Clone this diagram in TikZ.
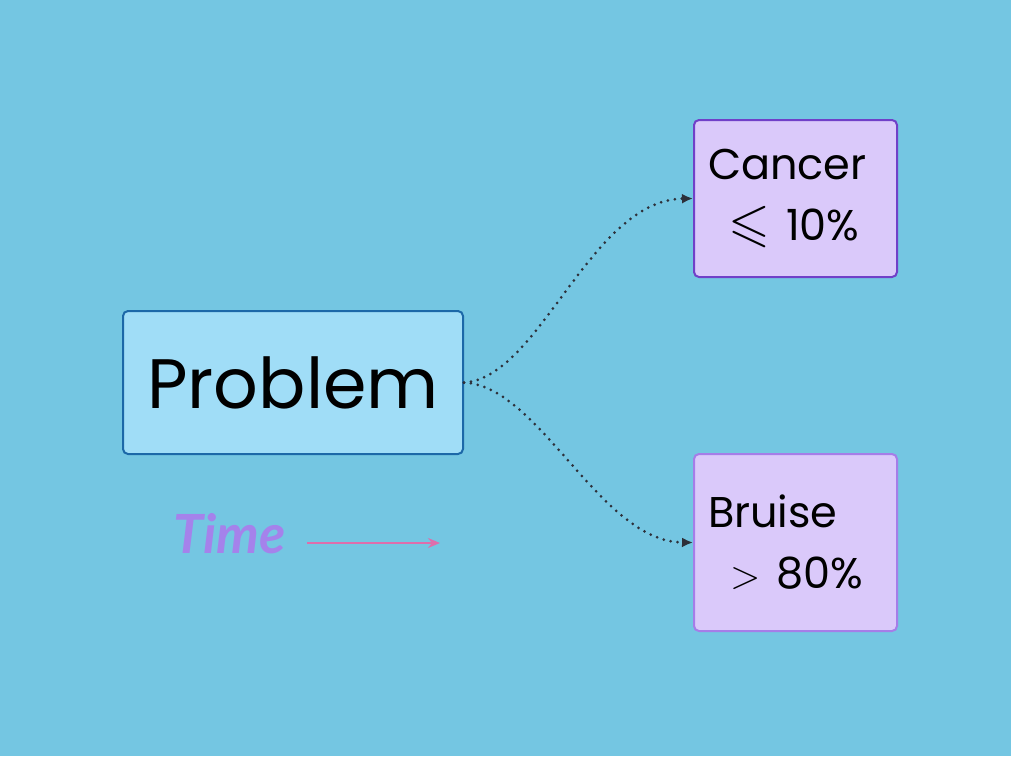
\documentclass[tikz,border=0pt]{standalone}
\usepackage{amssymb}
\usepackage{graphicx}
\usepackage{fontspec}
\setmainfont{Poppins}
\newfontfamily\timefont{Lato}
\usetikzlibrary{arrows.meta}
\definecolor{bgblue}{RGB}{116,198,226}
\definecolor{probfill}{RGB}{160,221,247}
\definecolor{probdraw}{RGB}{28,104,168}
\definecolor{lavfill}{RGB}{218,201,250}
\definecolor{cancerdraw}{RGB}{112,64,200}
\definecolor{bruisedraw}{RGB}{165,125,232}
\definecolor{timepurple}{RGB}{165,130,235}
\definecolor{arrowpink}{RGB}{222,110,172}
\definecolor{dotgray}{RGB}{45,48,58}
\tikzset{
  box/.style={rectangle, rounded corners=5pt, line width=2pt, inner sep=0pt},
  resultbox/.style={box, fill=lavfill, minimum width=203pt, minimum height=157pt,
     text width=175pt, align=left, font=\fontsize{43}{61}\selectfont},
  link/.style={dotgray, line width=3pt, line cap=round, dash pattern=on 0pt off 7pt,
     -{Latex[length=11pt,width=10pt]}},
}
\begin{document}
\begin{tikzpicture}[x=1pt,y=-1pt]
\fill[bgblue] (0,0) rectangle (1011,756);
\useasboundingbox (0,0) rectangle (1011,756);
\node[box, fill=probfill, draw=probdraw, minimum width=340pt, minimum height=143pt,
  font=\fontsize{70}{80}\selectfont] (prob) at (293,382.5) {Problem};
\node[resultbox, draw=cancerdraw] (cancer) at (795.5,198.5) {Cancer\\\hspace*{20pt}\scalebox{1.25}{$\leqslant$}\hspace{2pt} 10\%};
\node[resultbox, draw=bruisedraw, minimum height=177pt] (bruise) at (795.5,542.5) {Bruise\\\hspace*{22pt}\scalebox{1.6}{$>$}\hspace{2pt} 80\%};
\node[text=timepurple, font=\timefont\bfseries\itshape\fontsize{54}{60}\selectfont, anchor=base west] (time) at (170,553) {Time};
\coordinate (ta) at (307,543);
\coordinate (tb) at (440,543);
\draw[arrowpink, line width=1.6pt, -{Stealth[length=12pt,width=10pt]}] (ta) -- (tb);
\draw[link] (prob.east) .. controls (540,378) and (590,200) .. (cancer.west);
\draw[link] (prob.east) .. controls (540,386) and (600,542) .. (bruise.west);
\end{tikzpicture}
\end{document}
